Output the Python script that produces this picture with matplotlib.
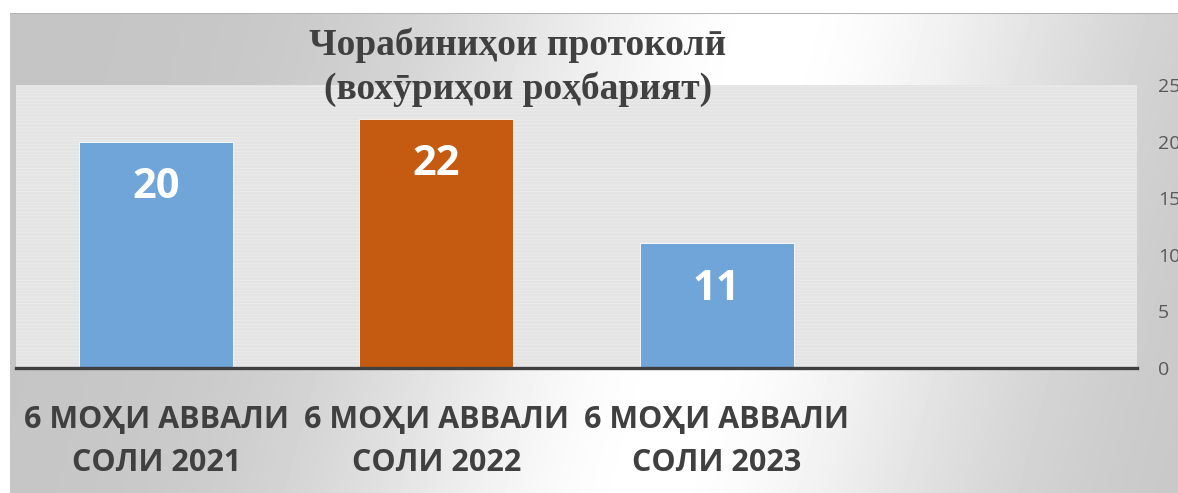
import numpy as np
import matplotlib.pyplot as plt

categories = ["6 МОҲИ АВВАЛИ\nСОЛИ 2021", "6 МОҲИ АВВАЛИ\nСОЛИ 2022", "6 МОҲИ АВВАЛИ\nСОЛИ 2023", ""]
values = [20, 22, 11]
bar_colors = ["#6fa5d8", "#c55a11", "#6fa5d8"]
yticks = [0, 5, 10, 15, 20, 25]
title = "Чорабиниҳои протоколӣ\n(вохӯриҳои роҳбарият)"

W, H = 1178, 493
fig = plt.figure(figsize=(W / 100, H / 100), dpi=100)
fig.patch.set_facecolor("white")

# gradient chart background
bg = fig.add_axes([10 / W, 0, 1 - 10 / W, (H - 13) / H])
bg.axis("off")
yy, xx = np.mgrid[0:480, 0:1168]
cx = 770 - yy / 480 * 130
d = np.abs(xx - cx)
shade = 0.77 + 0.23 * np.exp(-(d / 320) ** 2)
bg.imshow(shade, cmap="gray", vmin=0, vmax=1, aspect="auto",
          extent=[0, 1, 0, 1], interpolation="bilinear")
bg.axhline(1, color="#b4b4b4", lw=1.5)
bg.set_xlim(0, 1)
bg.set_ylim(0, 1)

ax = fig.add_axes([16 / W, (H - 368) / H, (1137 - 16) / W, (368 - 85) / H])
ax.set_facecolor("#e4e4e4")
for s in np.arange(0, 25, 0.3):
    ax.axhline(s, color="#eaeaea", lw=0.6, zorder=0)

x = np.arange(len(values))
ax.bar(x, values, width=0.55, color=bar_colors, edgecolor="white",
       linewidth=0.6, zorder=2)
for i, v in enumerate(values):
    ax.annotate(str(v), (i, v), xytext=(0, -33), textcoords="offset points",
                ha="center", va="center", color="white", fontsize=30,
                fontweight="bold", family=["Open Sans", "DejaVu Sans"], zorder=3)

ax.set_xlim(-0.5, 3.5)
ax.set_ylim(0, 25)
for sp in ["top", "left", "right"]:
    ax.spines[sp].set_visible(False)
ax.spines["bottom"].set_color("#404040")
ax.spines["bottom"].set_linewidth(2.4)
ax.spines["bottom"].set_zorder(4)

ax.yaxis.tick_right()
ax.set_yticks(yticks)
ax.set_yticklabels([str(t) for t in yticks], color="#595959", fontsize=14,
                   family=["Open Sans", "DejaVu Sans"])
ax.tick_params(axis="y", length=0, pad=15)

ax.set_xticks(np.arange(len(categories)))
ax.set_xticklabels(categories, fontsize=22, fontweight="bold", color="#404040",
                   family=["Open Sans", "Noto Sans", "DejaVu Sans"], linespacing=1.55)
ax.tick_params(axis="x", length=0, pad=27)

fig.text(518 / W, 1 - 67 / H, title, ha="center", va="center", fontsize=27,
         fontweight="bold", color="#404040", linespacing=1.3,
         family=["Liberation Serif", "DejaVu Serif"])

fig.savefig("out.png", dpi=100)
